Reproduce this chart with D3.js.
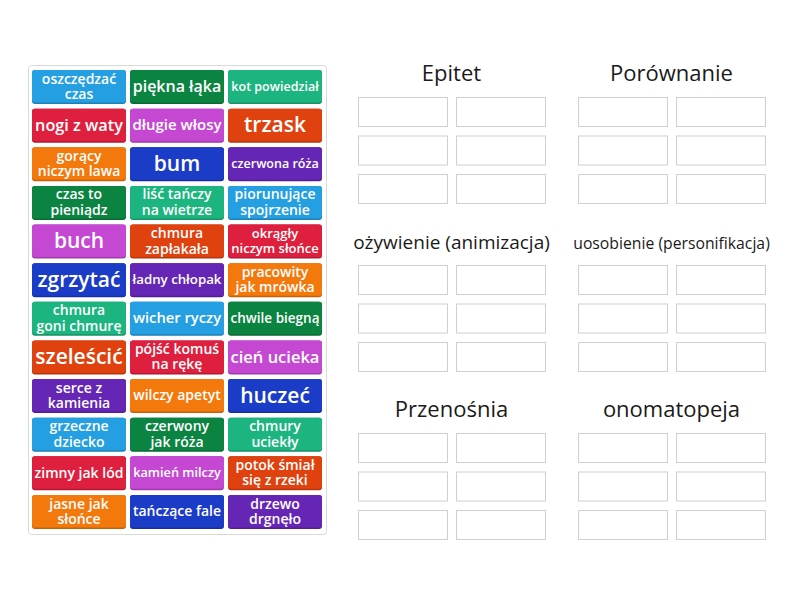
<!DOCTYPE html>
<html>
<head>
<meta charset="utf-8">
<script src="https://cdn.jsdelivr.net/npm/d3@7"></script>
<style>
  body { margin: 0; background: #fff; }
  svg { display: block; font-family: "Open Sans", "Noto Sans", sans-serif; }
</style>
</head>
<body>
<svg id="chart" width="800" height="600"></svg>
<script>
// cards in the left panel, row by row ("\n" = line break)
var cards = [
  "oszczędzać\nczas", "piękna łąka", "kot powiedział",
  "nogi z waty", "długie włosy", "trzask",
  "gorący\nniczym lawa", "bum", "czerwona róża",
  "czas to\npieniądz", "liść tańczy\nna wietrze", "piorunujące\nspojrzenie",
  "buch", "chmura\nzapłakała", "okrągły\nniczym słońce",
  "zgrzytać", "ładny chłopak", "pracowity\njak mrówka",
  "chmura\ngoni chmurę", "wicher ryczy", "chwile biegną",
  "szeleścić", "pójść komuś\nna rękę", "cień ucieka",
  "serce z\nkamienia", "wilczy apetyt", "huczeć",
  "grzeczne\ndziecko", "czerwony\njak róża", "chmury\nuciekły",
  "zimny jak lód", "kamień milczy", "potok śmiał\nsię z rzeki",
  "jasne jak\nsłońce", "tańczące fale", "drzewo\ndrgnęło"
]
// colour index for every card
var cardColor = [0,1,2, 3,4,5, 6,7,8, 1,2,0, 4,5,3, 7,8,6, 2,0,1, 5,3,4, 8,6,7, 0,1,2, 3,4,5, 6,7,8]
var palette = ["#249fe2", "#0b8441", "#1db57f", "#de1f3e", "#c548d3", "#e0420f", "#f3790d", "#1b3cc7", "#6626b5"]

// group titles (2 columns x 3 rows), 6 slots each
var groups = ["Epitet", "Porównanie", "ożywienie (animizacja)", "uosobienie (personifikacja)", "Przenośnia", "onomatopeja"]
var slotsPerGroup = 6

var svg = d3.select("#chart")

// ---------- left panel ----------
var cols = 3, rows = cards.length / cols
var x = d3.scaleBand().domain(d3.range(cols)).range([32, 322]).paddingInner(4 / 98)
var y = d3.scaleBand().domain(d3.range(rows)).range([70, 529]).paddingInner(0.12)

svg.append("rect")
  .attr("x", 28.5).attr("y", 65.5)
  .attr("width", 298).attr("height", 469)
  .attr("rx", 3)
  .attr("fill", "#fff")
  .attr("stroke", "#d9d9d9")

var card = svg.append("g").selectAll("g")
  .data(cards)
  .join("g")
  .attr("transform", (d, i) => `translate(${x(i % cols)},${y(Math.floor(i / cols))})`)

// darker bottom edge
card.append("rect")
  .attr("width", x.bandwidth()).attr("height", y.bandwidth())
  .attr("rx", 3)
  .attr("fill", (d, i) => d3.color(palette[cardColor[i]]).darker(0.6))
card.append("rect")
  .attr("width", x.bandwidth()).attr("height", y.bandwidth() - 1.5)
  .attr("rx", 3)
  .attr("fill", (d, i) => palette[cardColor[i]])

// fit the text inside each card, one text per line
card.each(function(d) {
  var g = d3.select(this)
  var lines = d.split("\n")
  var maxW = x.bandwidth() - 5
  var size = lines.length == 1 ? 21 : 14
  var t = g.selectAll("text").data(lines).join("text")
    .attr("fill", "#fff")
    .attr("font-weight", 600)
    .attr("text-anchor", "middle")
    .text(l => l)
  function widest() {
    var w = 0
    t.each(function() { w = Math.max(w, this.getComputedTextLength()) })
    return w
  }
  t.attr("font-size", size)
  while (widest() > maxW && size > 8) {
    size -= 0.25
    t.attr("font-size", size)
  }
  var lh = 15.5
  var cy = (y.bandwidth() - 1.5) / 2
  t.attr("x", x.bandwidth() / 2)
    .attr("y", (l, j) => cy + (j - (lines.length - 1) / 2) * lh + size * 0.36)
})

// ---------- target groups ----------
var gx = d3.scaleBand().domain([0, 1]).range([358, 765]).paddingInner(33 / 220)
var gy = d3.scaleOrdinal().domain([0, 1, 2]).range([97, 265, 433])
var sx = d3.scaleBand().domain([0, 1]).range([0, 187]).paddingInner(9 / 98)
var sy = d3.scaleBand().domain([0, 1, 2]).range([0, 106]).paddingInner(9.5 / 38.5)

var group = svg.append("g").selectAll("g")
  .data(groups)
  .join("g")
  .attr("transform", (d, i) => `translate(${gx(i % 2)},${gy(Math.floor(i / 2))})`)

group.append("text")
  .attr("x", gx.bandwidth() / 2)
  .attr("y", -16)
  .attr("text-anchor", "middle")
  .attr("fill", "#1a1a1a")
  .text(d => d)
  .each(function() {
    var t = d3.select(this), size = 22
    t.attr("font-size", size)
    while (this.getComputedTextLength() > 197 && size > 8) {
      size -= 0.25
      t.attr("font-size", size)
    }
  })

group.selectAll("rect")
  .data(d3.range(slotsPerGroup))
  .join("rect")
  .attr("x", j => sx(j % 2) + 0.5)
  .attr("y", j => sy(Math.floor(j / 2)) + 0.5)
  .attr("width", sx.bandwidth())
  .attr("height", sy.bandwidth())
  .attr("fill", "#fff")
  .attr("stroke", "#cfcfcf")
</script>
</body>
</html>
